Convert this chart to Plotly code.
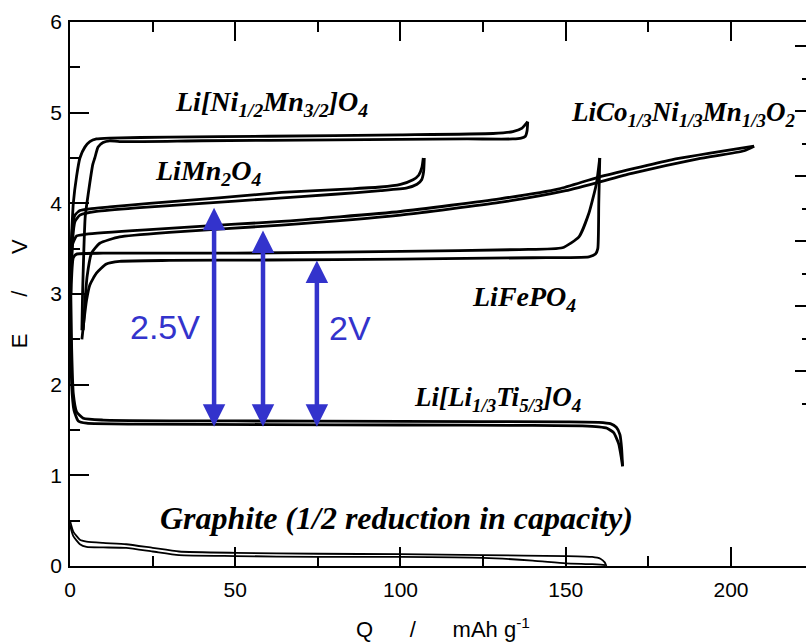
import plotly.graph_objects as go

# ---------------- data (Q in mAh/g, E in V) ----------------
nimn_chg_q = [0.3, 1.0, 2.0, 3.0, 4.5, 6.0, 8.0, 12, 30, 60, 100, 128, 134, 136.8, 138.5]
nimn_chg_e = [3.5, 4.0, 4.3, 4.5, 4.62, 4.68, 4.71, 4.72, 4.73, 4.74, 4.755, 4.77, 4.79, 4.83, 4.9]
nimn_dis_q = [138.5, 138.3, 137.8, 136.5, 134, 120, 80, 40, 15, 12, 10, 8.5, 7.5, 6.9, 5.5, 4.6, 4.2, 3.8, 3.6]
nimn_dis_e = [4.9, 4.8, 4.74, 4.72, 4.71, 4.71, 4.70, 4.69, 4.68, 4.69, 4.67, 4.62, 4.5, 4.43, 4.1, 3.85, 3.5, 3.0, 2.6]

lmo_chg_q = [0.2, 0.8, 1.5, 3, 6, 12, 24, 45, 64, 85, 94, 100, 103.8, 105.5, 106.5, 106.9]
lmo_chg_e = [3.3, 3.75, 3.87, 3.92, 3.94, 3.96, 4.0, 4.06, 4.12, 4.16, 4.18, 4.21, 4.26, 4.31, 4.4, 4.5]
lmo_dis_q = [107.2, 107.0, 106.4, 105.0, 102, 94, 80, 60, 40, 20, 8, 3, 1.5, 0.8, 0.4]
lmo_dis_e = [4.5, 4.35, 4.26, 4.21, 4.17, 4.14, 4.10, 4.05, 4.0, 3.95, 3.91, 3.87, 3.8, 3.6, 3.2]

ncm_chg_q = [0.2, 0.8, 2, 5, 24, 50, 64, 100, 130, 148, 160, 182, 207]
ncm_chg_e = [3.2, 3.55, 3.64, 3.66, 3.71, 3.77, 3.80, 3.91, 4.05, 4.16, 4.29, 4.48, 4.63]
ncm_dis_q = [207, 204, 190, 170, 150, 130, 100, 64, 30, 15, 9, 6.5, 5.2, 4.5, 4.0]
ncm_dis_e = [4.63, 4.58, 4.49, 4.33, 4.14, 4.01, 3.87, 3.76, 3.68, 3.63, 3.56, 3.45, 3.2, 2.9, 2.6]

lfp_chg_q = [0.3, 1.0, 2.0, 10, 50, 100, 136, 149, 154, 157, 159.3, 160.3]
lfp_chg_e = [3.0, 3.40, 3.44, 3.45, 3.45, 3.47, 3.49, 3.51, 3.63, 3.89, 4.22, 4.5]
lfp_dis_q = [160.3, 160.0, 159.7, 159.0, 157, 140, 100, 60, 30, 15, 11, 8, 6, 5, 4.2, 3.6]
lfp_dis_e = [4.5, 4.0, 3.5, 3.44, 3.41, 3.40, 3.385, 3.375, 3.37, 3.36, 3.33, 3.23, 3.1, 2.93, 2.7, 2.5]

lto_dis_q = [0.0, 0.5, 1.2, 2.5, 5, 20, 60, 100, 140, 155, 160, 162.5, 164.5, 166, 166.8, 167.2]
lto_dis_e = [3.2, 2.0, 1.72, 1.6, 1.575, 1.565, 1.56, 1.555, 1.55, 1.545, 1.535, 1.52, 1.47, 1.35, 1.2, 1.1]
lto_chg_q = [167.2, 166.9, 166.4, 165.3, 163.5, 160, 150, 100, 50, 10, 4, 2, 1, 0.5, 0.2]
lto_chg_e = [1.1, 1.3, 1.45, 1.53, 1.57, 1.585, 1.59, 1.595, 1.6, 1.61, 1.63, 1.7, 1.9, 2.4, 3.1]

gr_up_q = [0, 1, 3, 5, 10, 17, 25, 33, 50, 75, 100, 125, 150, 158, 160.5, 161.8, 162.3]
gr_up_e = [0.50, 0.38, 0.29, 0.27, 0.255, 0.24, 0.20, 0.16, 0.145, 0.135, 0.13, 0.12, 0.11, 0.10, 0.08, 0.04, 0.0]
gr_lo_q = [0, 1, 3, 5, 10, 17, 25, 33, 50, 75, 100, 125, 140, 150, 158, 162]
gr_lo_e = [0.45, 0.33, 0.24, 0.21, 0.205, 0.20, 0.16, 0.12, 0.11, 0.10, 0.10, 0.09, 0.06, 0.03, 0.02, 0.01]

arrow_q = [43.6, 58.4, 74.7]
arrow_top = [3.95, 3.70, 3.37]
arrow_bottom = [1.52, 1.52, 1.52]

x_ticks = [0, 50, 100, 150, 200]
y_ticks = [0, 1, 2, 3, 4, 5, 6]

# labels: (text, Q, E, font size)
labels = [
    ("Li[Ni<sub>1/2</sub>Mn<sub>3/2</sub>]O<sub>4</sub>", 31.2, 5.10, 28),
    ("LiMn<sub>2</sub>O<sub>4</sub>", 25.1, 4.34, 28),
    ("LiCo<sub>1/3</sub>Ni<sub>1/3</sub>Mn<sub>1/3</sub>O<sub>2</sub>", 151.0, 4.98, 27),
    ("LiFePO<sub>4</sub>", 121.0, 2.95, 28),
    ("Li[Li<sub>1/3</sub>Ti<sub>5/3</sub>]O<sub>4</sub>", 103.5, 1.84, 27),
    ("Graphite (1/2 reduction in capacity)", 26.5, 0.53, 32),
]

BLUE = "rgb(51,51,204)"

fig = go.Figure()

curves = [
    (nimn_chg_q, nimn_chg_e), (nimn_dis_q, nimn_dis_e),
    (lmo_chg_q, lmo_chg_e), (lmo_dis_q, lmo_dis_e),
    (ncm_chg_q, ncm_chg_e), (ncm_dis_q, ncm_dis_e),
    (lfp_chg_q, lfp_chg_e), (lfp_dis_q, lfp_dis_e),
    (lto_dis_q, lto_dis_e), (lto_chg_q, lto_chg_e),
]
for q, e in curves:
    fig.add_trace(go.Scatter(x=q, y=e, mode="lines",
                             line=dict(color="black", width=2.8, shape="spline", smoothing=0.5),
                             showlegend=False, hoverinfo="skip"))
for q, e in [(gr_up_q, gr_up_e), (gr_lo_q, gr_lo_e)]:
    fig.add_trace(go.Scatter(x=q, y=e, mode="lines",
                             line=dict(color="black", width=1.8, shape="spline", smoothing=0.5),
                             showlegend=False, hoverinfo="skip"))

# dummy trace for right-hand tick axis
fig.add_trace(go.Scatter(x=[None], y=[None], yaxis="y2", showlegend=False, hoverinfo="skip"))

# arrows
for q, top, bot in zip(arrow_q, arrow_top, arrow_bottom):
    fig.add_annotation(x=q, y=top, ax=q, ay=bot, xref="x", yref="y", axref="x", ayref="y",
                       text="", showarrow=True, arrowhead=2, startarrowhead=2,
                       arrowside="end+start", arrowsize=1.0, startarrowsize=1.0,
                       arrowwidth=4.5, arrowcolor=BLUE, standoff=0, startstandoff=0)

fig.add_annotation(x=28.7, y=2.635, xref="x", yref="y", text="2.5V", showarrow=False,
                   xanchor="center", yanchor="middle",
                   font=dict(family="Liberation Sans, Arial", size=34, color=BLUE))
fig.add_annotation(x=84.7, y=2.624, xref="x", yref="y", text="2V", showarrow=False,
                   xanchor="center", yanchor="middle",
                   font=dict(family="Liberation Sans, Arial", size=34, color=BLUE))

for text, q, e, sz in labels:
    fig.add_annotation(x=q, y=e, xref="x", yref="y", text=text, showarrow=False,
                       xanchor="left", yanchor="middle",
                       font=dict(family="Liberation Serif, Times New Roman", size=sz,
                                 color="black", style="italic", weight="bold"))

# axis titles
nb = "\u00a0"
fig.add_annotation(x=-0.069, y=0.5, xref="paper", yref="paper",
                   xanchor="center", yanchor="middle",
                   text="E" + nb * 6 + "/" + nb * 6 + "V", textangle=-90, showarrow=False,
                   font=dict(family="Liberation Sans, Arial", size=22, color="black"))
fig.add_annotation(x=0.507, y=-0.114, xref="paper", yref="paper",
                   xanchor="center", yanchor="middle",
                   text="Q" + nb * 6 + "/" + nb * 6 + "mAh g<sup>-1</sup>", showarrow=False,
                   font=dict(family="Liberation Sans, Arial", size=22, color="black"))

axis_common = dict(showgrid=False, zeroline=False, linecolor="black", linewidth=1.5,
                   ticks="inside", ticklen=19, tickwidth=1.5, tickcolor="black", automargin=False,
                   tickfont=dict(family="Liberation Sans, Arial", size=21, color="black"))

fig.update_layout(
    width=806, height=642,
    margin=dict(l=70, r=0, t=22, b=76, autoexpand=False),
    plot_bgcolor="white", paper_bgcolor="white",
    showlegend=False,
    xaxis=dict(range=[0, 222.7], tickvals=x_ticks, showline=True, mirror="ticks",
               minor=dict(dtick=25, ticklen=10, ticks="inside", tickwidth=1.5, tickcolor="black"),
               ticklabelstandoff=4, **axis_common),
    yaxis=dict(range=[0, 6], tickvals=y_ticks, showline=True, mirror=False,
               minor=dict(dtick=0.5, ticklen=10, ticks="inside", tickwidth=1.5, tickcolor="black"),
               ticklabelstandoff=2, **axis_common),
    yaxis2=dict(overlaying="y", side="right", range=[0, 8.37], showgrid=False, zeroline=False,
                showline=False, showticklabels=False, ticks="inside", ticklen=11, tickwidth=1.5,
                tickcolor="black", tickvals=[3, 4, 5, 6, 7, 8], automargin=False,
                minor=dict(tickvals=[2.5, 3.5, 4.5, 5.5, 6.5, 7.5], ticklen=4, ticks="inside",
                           tickwidth=1.5, tickcolor="black")),
)

fig.write_html("out.html", config={"displayModeBar": False},
               post_script="document.body.style.margin='0';document.body.style.overflow='hidden';")
